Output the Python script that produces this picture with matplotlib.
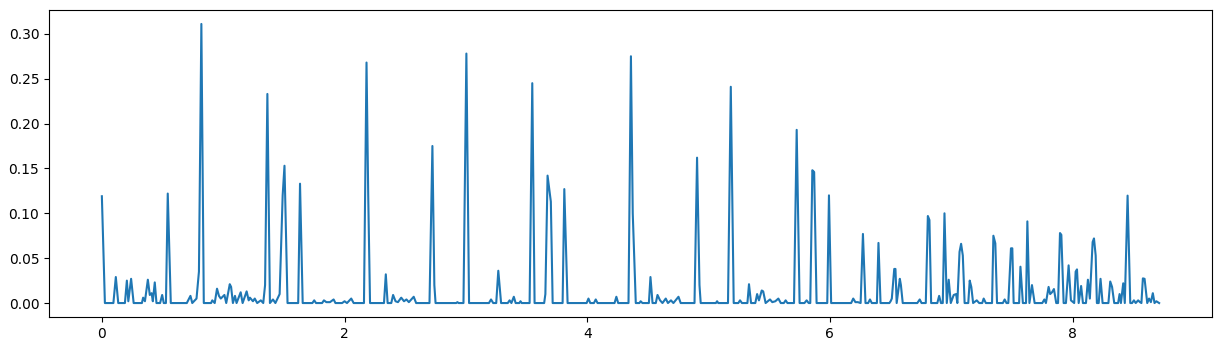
import matplotlib
matplotlib.use("Agg")
import matplotlib.pyplot as plt

times = [
    0.0, 0.025,
    0.095, 0.115, 0.135,
    0.19, 0.206, 0.218, 0.241, 0.262,
    0.33, 0.340, 0.355, 0.379, 0.395, 0.41, 0.42, 0.436, 0.45, 0.48, 0.497, 0.51,
    0.528, 0.543, 0.568,
    0.70, 0.73, 0.745, 0.78, 0.80, 0.82, 0.84,
    0.90, 0.91, 0.93, 0.949, 0.965, 0.98, 1.01, 1.025, 1.054, 1.065, 1.08, 1.097, 1.11, 1.144, 1.16, 1.193, 1.21, 1.22, 1.245, 1.26, 1.28, 1.31, 1.33,
    1.345, 1.364, 1.385, 1.41, 1.43,
    1.465, 1.49, 1.505, 1.53,
    1.618, 1.633, 1.655,
    1.735, 1.75, 1.765, 1.815, 1.83, 1.85, 1.88, 1.91, 1.925, 1.98, 2.0, 2.02, 2.055, 2.075,
    2.16, 2.181, 2.195, 2.21,
    2.325, 2.34, 2.355,
    2.385, 2.40, 2.42, 2.44, 2.467, 2.49, 2.51, 2.53, 2.57, 2.59,
    2.70, 2.724, 2.74, 2.75,
    2.92, 2.93, 2.94,
    2.98, 3.004, 3.026,
    3.19, 3.207, 3.225,
    3.25, 3.267, 3.29,
    3.345, 3.36, 3.375, 3.395, 3.41, 3.44, 3.45, 3.46,
    3.525, 3.547, 3.566,
    3.645, 3.655, 3.673, 3.70, 3.715,
    3.797, 3.811, 3.838,
    3.995, 4.01, 4.025, 4.055, 4.07, 4.085,
    4.225, 4.24, 4.255,
    4.34, 4.36, 4.375, 4.40,
    4.43, 4.44, 4.455,
    4.508, 4.521, 4.538,
    4.565, 4.579, 4.60, 4.62, 4.647, 4.665, 4.69, 4.71, 4.752, 4.77,
    4.884, 4.905, 4.925, 4.935,
    5.06, 5.07, 5.08,
    5.16, 5.183, 5.207,
    5.245, 5.259, 5.275,
    5.32, 5.333, 5.35,
    5.385, 5.40, 5.415, 5.438, 5.45, 5.47, 5.506, 5.525, 5.55, 5.575, 5.595, 5.62, 5.635, 5.65,
    5.704, 5.726, 5.75,
    5.79, 5.808, 5.825,
    5.838, 5.855, 5.87, 5.89,
    5.978, 5.992, 6.01,
    6.175, 6.192, 6.21, 6.23,
    6.253, 6.272, 6.293,
    6.315, 6.33, 6.345,
    6.387, 6.40, 6.417,
    6.49, 6.50, 6.51, 6.53, 6.54, 6.55, 6.576, 6.585, 6.60,
    6.72, 6.74, 6.755,
    6.79, 6.807, 6.82, 6.834,
    6.885, 6.90, 6.915,
    6.93, 6.944, 6.963, 6.979, 6.996,
    7.02, 7.04, 7.05, 7.068, 7.081, 7.095, 7.11,
    7.14, 7.152, 7.165, 7.18,
    7.21, 7.23, 7.255, 7.267, 7.285,
    7.336, 7.347, 7.363, 7.377,
    7.425, 7.44, 7.455,
    7.47, 7.492, 7.503, 7.514,
    7.559, 7.57, 7.59,
    7.616, 7.627, 7.644, 7.665, 7.687,
    7.75, 7.767, 7.78, 7.802, 7.815, 7.83, 7.846, 7.865,
    7.88, 7.896, 7.907, 7.926,
    7.945, 7.967, 7.986,
    8.013, 8.025, 8.036, 8.05,
    8.07, 8.085,
    8.11, 8.126, 8.142, 8.165, 8.176, 8.19, 8.2,
    8.215, 8.23, 8.247,
    8.295, 8.31, 8.325, 8.343,
    8.375, 8.387, 8.398, 8.417, 8.43, 8.453, 8.475,
    8.49, 8.505, 8.52, 8.54, 8.555,
    8.567, 8.579, 8.593, 8.615, 8.63, 8.645, 8.661, 8.675, 8.69, 8.713,
]

values = [
    0.119, 0.0,
    0.0, 0.029, 0.0,
    0.0, 0.025, 0.002, 0.027, 0.0,
    0.0, 0.006, 0.002, 0.026, 0.009, 0.011, 0.002, 0.023, 0.0, 0.0, 0.009, 0.0,
    0.0, 0.122, 0.0,
    0.0, 0.008, 0.0, 0.005, 0.035, 0.311, 0.0,
    0.0, 0.003, 0.0, 0.016, 0.008, 0.005, 0.009, 0.0, 0.021, 0.018, 0.0, 0.008, 0.0, 0.012, 0.0, 0.013, 0.003, 0.006, 0.002, 0.005, 0.0, 0.003, 0.0,
    0.02, 0.233, 0.0, 0.004, 0.0,
    0.01, 0.12, 0.153, 0.0,
    0.0, 0.133, 0.0,
    0.0, 0.003, 0.0, 0.0, 0.003, 0.001, 0.001, 0.004, 0.0, 0.0, 0.002, 0.0, 0.005, 0.0,
    0.0, 0.268, 0.12, 0.0,
    0.0, 0.032, 0.0,
    0.0, 0.009, 0.002, 0.001, 0.006, 0.002, 0.004, 0.001, 0.007, 0.0,
    0.0, 0.175, 0.02, 0.0,
    0.0, 0.001, 0.0,
    0.0, 0.278, 0.0,
    0.0, 0.004, 0.0,
    0.0, 0.036, 0.0,
    0.0, 0.003, 0.0, 0.007, 0.0, 0.0, 0.002, 0.0,
    0.0, 0.245, 0.0,
    0.0, 0.01, 0.142, 0.113, 0.0,
    0.0, 0.127, 0.0,
    0.0, 0.005, 0.0, 0.0, 0.004, 0.0,
    0.0, 0.007, 0.0,
    0.0, 0.275, 0.10, 0.0,
    0.0, 0.002, 0.0,
    0.0, 0.029, 0.0,
    0.0, 0.009, 0.003, 0.0, 0.005, 0.0, 0.003, 0.0, 0.007, 0.0,
    0.0, 0.162, 0.02, 0.0,
    0.0, 0.002, 0.0,
    0.0, 0.241, 0.0,
    0.0, 0.003, 0.0,
    0.0, 0.021, 0.0,
    0.0, 0.01, 0.003, 0.014, 0.013, 0.0, 0.004, 0.001, 0.002, 0.005, 0.0, 0.0, 0.003, 0.0,
    0.0, 0.193, 0.0,
    0.0, 0.003, 0.0,
    0.0, 0.148, 0.146, 0.0,
    0.0, 0.120, 0.0,
    0.0, 0.005, 0.001, 0.001,
    0.0, 0.077, 0.0,
    0.0, 0.004, 0.0,
    0.0, 0.067, 0.0,
    0.0, 0.002, 0.005, 0.038, 0.038, 0.0, 0.027, 0.02, 0.0,
    0.0, 0.004, 0.0,
    0.0, 0.097, 0.0925, 0.0,
    0.0, 0.008, 0.0,
    0.0, 0.100, 0.0, 0.026, 0.0,
    0.009, 0.01, 0.0, 0.057, 0.066, 0.053, 0.0,
    0.0, 0.025, 0.018, 0.0,
    0.003, 0.0, 0.0, 0.005, 0.0,
    0.0, 0.075, 0.0665, 0.0,
    0.0, 0.004, 0.0,
    0.0, 0.061, 0.061, 0.0,
    0.0, 0.0405, 0.0,
    0.0, 0.091, 0.0, 0.020, 0.0,
    0.0, 0.004, 0.0, 0.018, 0.01, 0.012, 0.0156, 0.0,
    0.0, 0.078, 0.076, 0.0,
    0.0, 0.042, 0.003,
    0.0, 0.035, 0.0375, 0.0,
    0.019, 0.0,
    0.0, 0.026, 0.005, 0.068, 0.072, 0.053, 0.0,
    0.0, 0.027, 0.0,
    0.0, 0.024, 0.018, 0.0,
    0.0, 0.010, 0.0, 0.022, 0.0, 0.1197, 0.0,
    0.0, 0.003, 0.0, 0.003, 0.001,
    0.0, 0.0275, 0.027, 0.0, 0.005, 0.001, 0.011, 0.0, 0.002, 0.0,
]

fig = plt.figure(figsize=(12.22, 3.51), dpi=100)
ax = fig.add_axes([49 / 1222, 1 - 317 / 351, (1212 - 49) / 1222, (317 - 10) / 351])
ax.plot(times, values, color="#1f77b4", linewidth=1.5)
ax.set_xticks([0, 2, 4, 6, 8])
ax.set_yticks([0.0, 0.05, 0.10, 0.15, 0.20, 0.25, 0.30])
ax.set_yticklabels(["0.00", "0.05", "0.10", "0.15", "0.20", "0.25", "0.30"])
fig.savefig("out.png", dpi=100)
